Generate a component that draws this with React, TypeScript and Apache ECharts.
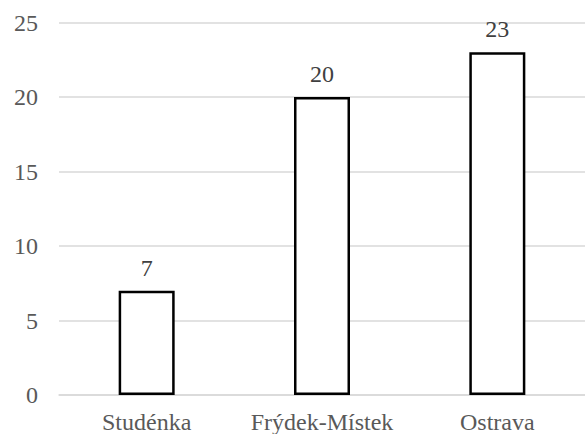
import React, { useEffect, useRef } from "react";
import * as echarts from "echarts";

const categories = ["Studénka", "Frýdek-Místek", "Ostrava"];
const values = [7, 20, 23];

export default function App() {
  const ref = useRef<HTMLDivElement>(null);
  useEffect(() => {
    const chart = echarts.init(ref.current!, null, { renderer: "svg" });
    const font = "Times New Roman, Liberation Serif, serif";
    chart.setOption({
      animation: false,
      backgroundColor: "#ffffff",
      grid: { left: 59, top: 22.5, width: 530, bottom: 37, containLabel: false },
      xAxis: {
        type: "category",
        data: categories,
        axisLine: { show: true, lineStyle: { color: "#d9d9d9", width: 1.5 } },
        axisTick: { show: false },
        axisLabel: { color: "#595959", fontFamily: font, fontSize: 24, margin: 15, interval: 0 },
      },
      yAxis: {
        type: "value",
        min: 0,
        max: 25,
        interval: 5,
        axisLine: { show: false },
        axisTick: { show: false },
        splitLine: { lineStyle: { color: "#d9d9d9", width: 1.5 } },
        axisLabel: { color: "#595959", fontFamily: font, fontSize: 24, margin: 21 },
      },
      series: [
        {
          type: "bar",
          data: values,
          barWidth: 56,
          itemStyle: { color: "#ffffff", borderColor: "#000000", borderWidth: 2.5 },
          label: {
            show: true,
            position: "top",
            distance: 11,
            color: "#404040",
            fontFamily: font,
            fontSize: 24,
          },
        },
      ],
    });
    return () => chart.dispose();
  }, []);
  return <div ref={ref} style={{ width: 585, height: 434, position: "absolute", left: 0, top: 0 }} />;
}
